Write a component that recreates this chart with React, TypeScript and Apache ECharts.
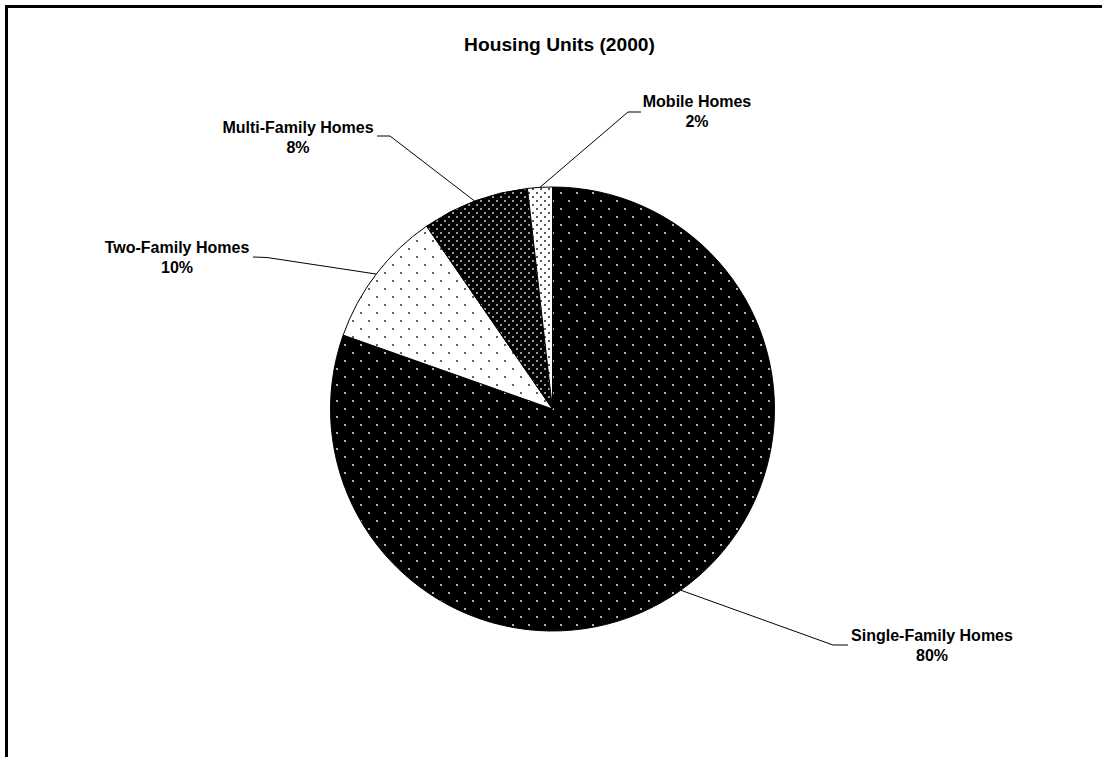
import React, { useEffect, useRef } from "react";
import * as echarts from "echarts";

// ---- data ----
const titleText = "Housing Units (2000)";
const categories = ["Single-Family Homes", "Two-Family Homes", "Multi-Family Homes", "Mobile Homes"];
const shares = [80.4, 10.0, 7.8, 1.8];

// ---- layout (not data) ----
const CX = 552.5;
const CY = 409;
const R = 222;
const FONT = "'Liberation Sans', Arial, Helvetica, sans-serif";

const placement = [
  { elbow: [833, 645], end: [848, 645], text: [932, 645], align: "center" },
  { elbow: [267, 257.5], end: [253, 257], text: [177, 257], align: "center" },
  { elbow: [390, 136], end: [377, 136], text: [298, 137], align: "center" },
  { elbow: [628, 112], end: [641, 112], text: [697, 111], align: "center" },
];

function makePattern(bg: string, dot: string, tile: number, dots: number[][], size: number) {
  const c = document.createElement("canvas");
  c.width = tile;
  c.height = tile;
  const ctx = c.getContext("2d")!;
  ctx.fillStyle = bg;
  ctx.fillRect(0, 0, tile, tile);
  ctx.fillStyle = dot;
  for (const [x, y] of dots) ctx.fillRect(x, y, size, size);
  return { image: c, repeat: "repeat", imageWidth: tile, imageHeight: tile } as any;
}

export default function App() {
  const ref = useRef<HTMLDivElement>(null);
  useEffect(() => {
    document.body.style.margin = "0";
    if (!ref.current) return;
    const chart = echarts.init(ref.current, undefined, { renderer: "svg" });

    const patterns = [
      makePattern("#000000", "#b0b0b0", 16, [[0, 0], [8, 8]], 2),
      makePattern("#ffffff", "#606060", 16, [[0, 0], [8, 8]], 2),
      makePattern("#000000", "#9a9a9a", 8, [[0, 0], [4, 4]], 2),
      makePattern("#ffffff", "#5a5a5a", 8, [[0, 0], [4, 4]], 2),
    ];

    const total = shares.reduce((a, b) => a + b, 0);
    const starts: number[][] = [];
    let cum = 0;
    shares.forEach((v) => {
      const mid = ((cum + v / 2) / total) * 2 * Math.PI;
      starts.push([CX + R * Math.sin(mid), CY - R * Math.cos(mid)]);
      cum += v;
    });

    chart.setOption({
      animation: false,
      backgroundColor: "#ffffff",
      title: {
        text: titleText,
        left: 559.5,
        top: 35,
        textAlign: "center",
        padding: 0,
        textStyle: { fontFamily: FONT, fontSize: 19.2, fontWeight: "bold", color: "#000" },
      },
      graphic: [
        {
          type: "rect",
          silent: true,
          shape: { x: 6.5, y: 6.5, width: 1400, height: 1000 },
          style: { stroke: "#000", lineWidth: 3, fill: null },
        },
      ],
      series: [
        {
          type: "pie",
          silent: true,
          center: [CX, CY],
          radius: [0, R],
          startAngle: 90,
          clockwise: true,
          avoidLabelOverlap: false,
          data: categories.map((name, i) => ({
            name,
            value: shares[i],
            itemStyle: { color: patterns[i] },
          })),
          itemStyle: { borderColor: "#000", borderWidth: 1 },
          label: {
            show: true,
            position: "outside",
            formatter: (p: any) => `${p.name}\n${Math.round(p.percent)}%`,
            fontFamily: FONT,
            fontSize: 16,
            fontWeight: "bold",
            color: "#000",
            lineHeight: 20,
            align: "center",
          },
          labelLine: {
            show: true,
            length: 10,
            length2: 10,
            smooth: false,
            lineStyle: { color: "#000", width: 1 },
          },
          labelLayout: (params: any) => {
            const i = params.dataIndex;
            const p = placement[i];
            return {
              x: p.text[0],
              y: p.text[1],
              align: p.align,
              verticalAlign: "middle",
              labelLinePoints: [starts[i], p.elbow, p.end],
            };
          },
        },
      ],
    } as any);

    return () => chart.dispose();
  }, []);

  return (
    <div
      ref={ref}
      style={{ position: "fixed", left: 0, top: 0, width: 1102, height: 757, background: "#fff", overflow: "hidden" }}
    />
  );
}
